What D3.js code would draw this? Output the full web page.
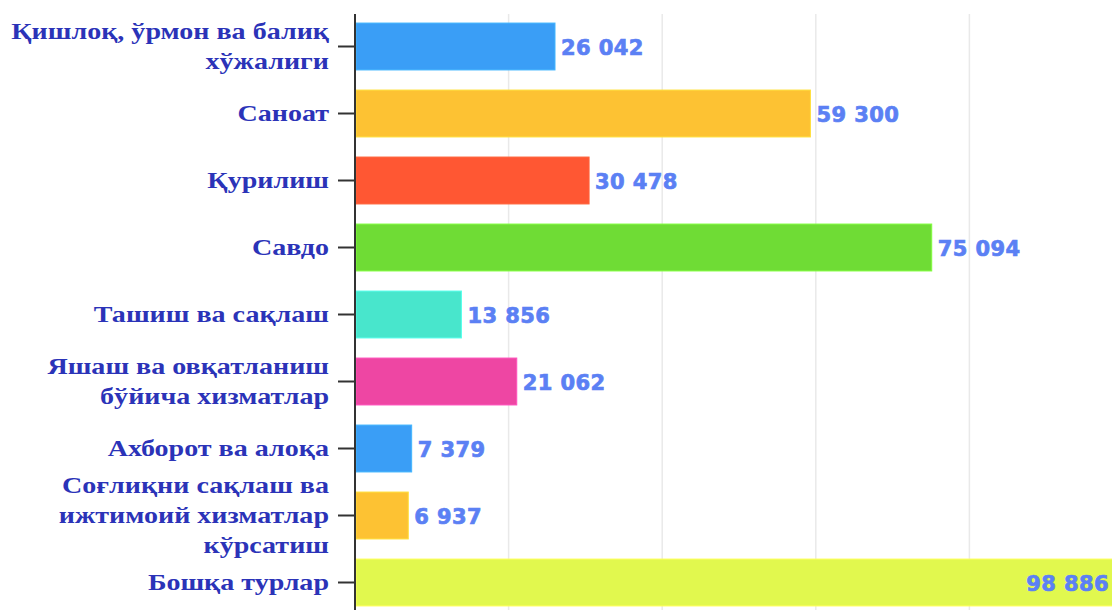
<!DOCTYPE html>
<html>
<head>
<meta charset="utf-8">
<script src="https://cdn.jsdelivr.net/npm/d3@7"></script>
<style>
  html, body { margin: 0; padding: 0; background: #ffffff; overflow: hidden; }
  .cat { font-family: "Liberation Serif", "Times New Roman", serif; font-weight: bold; font-size: 23px; fill: #2b33b8; }
  .val { font-family: "DejaVu Sans", sans-serif; font-weight: bold; font-size: 21px; fill: #5b80f4; stroke: #5b80f4; stroke-width: 0.7px; letter-spacing: 0.4px; }
</style>
</head>
<body>
<div id="chart"></div>
<script>
const categories = [
    ['Қишлоқ, ўрмон ва балиқ', 'хўжалиги'],
    ['Саноат'],
    ['Қурилиш'],
    ['Савдо'],
    ['Ташиш ва сақлаш'],
    ['Яшаш ва овқатланиш', 'бўйича хизматлар'],
    ['Ахборот ва алоқа'],
    ['Соғлиқни сақлаш ва', 'ижтимоий хизматлар', 'кўрсатиш'],
    ['Бошқа турлар']
]
const values = [26042, 59300, 30478, 75094, 13856, 21062, 7379, 6937, 98886]
const valueLabels = ['26 042', '59 300', '30 478', '75 094', '13 856', '21 062', '7 379', '6 937', '98 886']
const barColors = ['#3a9ef6', '#fdc233', '#ff5733', '#6fdc35', '#48e6cc', '#ee46a3', '#3a9ef6', '#fdc233', '#e1f84e']
const gridTicks = [20000, 40000, 60000, 80000, 100000]

const width = 1112
const height = 610

const svg = d3.select('#chart').append('svg')
    .attr('width', width)
    .attr('height', height)

const x = d3.scaleLinear()
    .domain([0, 100000])
    .range([355, 1123])

const y = d3.scaleBand()
    .domain(d3.range(categories.length))
    .range([13, 616])
    .paddingInner(0.3)
    .paddingOuter(0.15)

// grid lines
svg.append('g')
    .selectAll('line')
    .data(gridTicks)
    .enter()
    .append('line')
    .attr('x1', (d) => x(d))
    .attr('x2', (d) => x(d))
    .attr('y1', 14)
    .attr('y2', height)
    .attr('stroke', '#e9e9e9')
    .attr('stroke-width', 1.5)

// bars
svg.append('g')
    .selectAll('rect')
    .data(values)
    .enter()
    .append('rect')
    .attr('x', x(0) + 1)
    .attr('y', (d, i) => y(i))
    .attr('width', (d) => x(d) - x(0) - 1)
    .attr('height', y.bandwidth())
    .attr('fill', (d, i) => barColors[i])
    .attr('stroke', (d, i) => d3.color(barColors[i]).brighter(0.4))
    .attr('stroke-width', 1)

// value labels
svg.append('g')
    .selectAll('text')
    .data(values)
    .enter()
    .append('text')
    .attr('class', 'val')
    .attr('y', (d, i) => y(i) + y.bandwidth() / 2 + 8)
    .text((d, i) => valueLabels[i])
    .each(function (d) {
        const w = this.getComputedTextLength()
        const end = x(d)
        if (end + 6 + w > width) {
            d3.select(this).attr('x', width - 3).attr('text-anchor', 'end')
        } else {
            d3.select(this).attr('x', end + 6)
        }
    })

// y axis
const axis = svg.append('g')
axis.append('line')
    .attr('x1', x(0))
    .attr('x2', x(0))
    .attr('y1', 14)
    .attr('y2', height)
    .attr('stroke', '#333')
    .attr('stroke-width', 2)

axis.selectAll('.tick')
    .data(categories)
    .enter()
    .append('line')
    .attr('x1', x(0) - 17)
    .attr('x2', x(0))
    .attr('y1', (d, i) => y(i) + y.bandwidth() / 2)
    .attr('y2', (d, i) => y(i) + y.bandwidth() / 2)
    .attr('stroke', '#333')
    .attr('stroke-width', 2)

// category labels, stretched sideways like the source
const lineH = 30
const labels = axis.append('g')
    .attr('transform', 'translate(329,0) scale(1.22,1)')
labels.selectAll('text')
    .data(categories)
    .enter()
    .append('text')
    .attr('class', 'cat')
    .attr('text-anchor', 'end')
    .each(function (lines, i) {
        const cy = y(i) + y.bandwidth() / 2
        const top = cy - (lines.length - 1) * lineH / 2 + 8
        d3.select(this)
            .selectAll('tspan')
            .data(lines)
            .enter()
            .append('tspan')
            .attr('x', 0)
            .attr('y', (l, k) => top + k * lineH)
            .text((l) => l)
    })
</script>
</body>
</html>
